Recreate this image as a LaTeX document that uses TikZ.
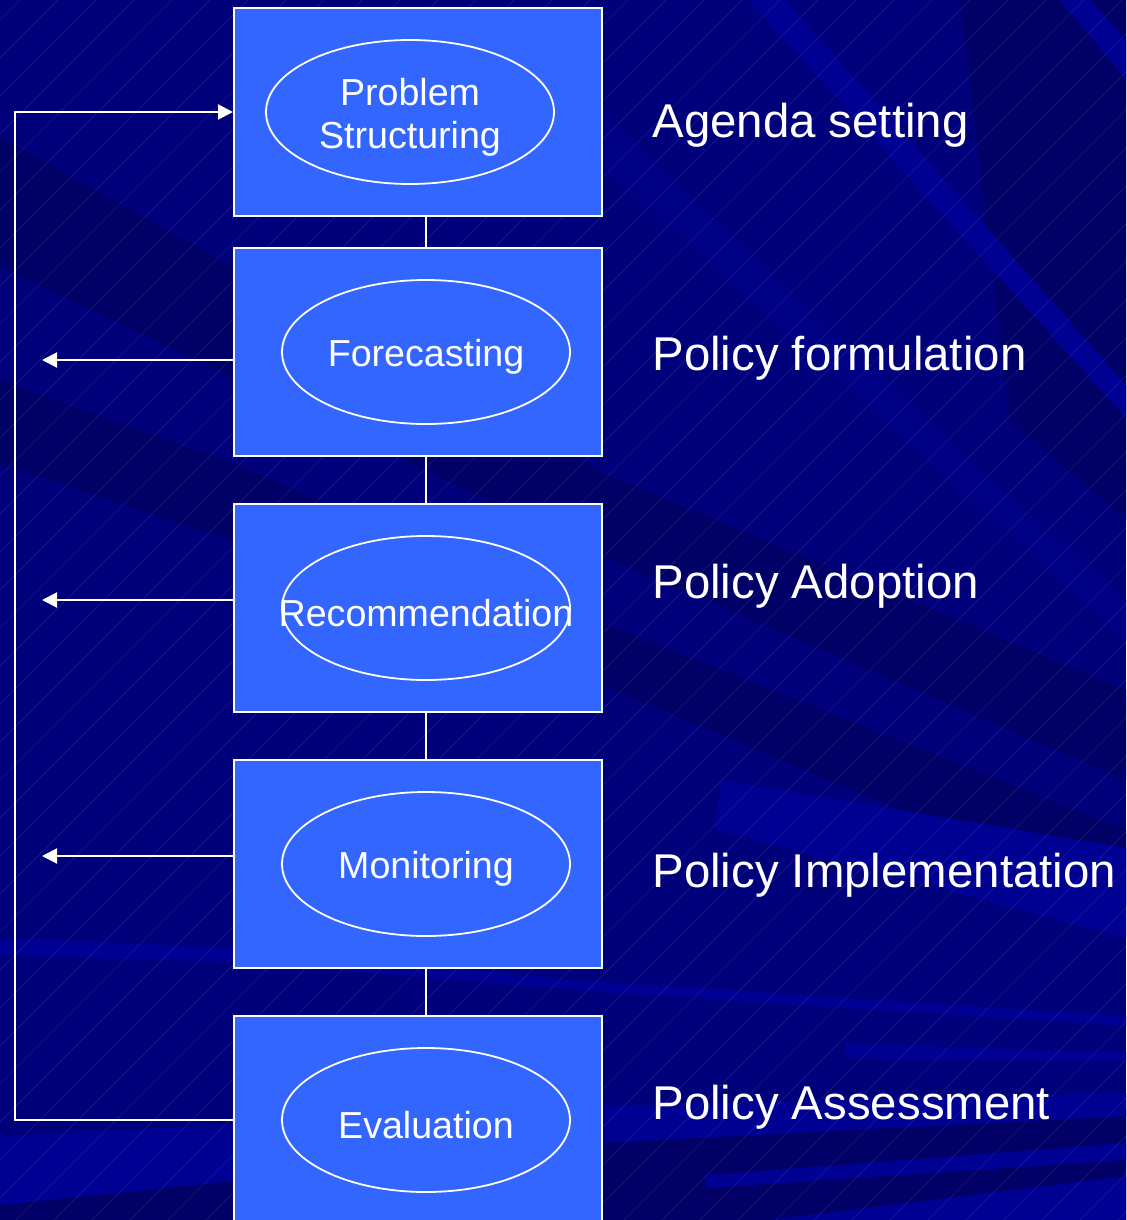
\documentclass[tikz,border=0pt]{standalone}
\usepackage{fontspec}
\setmainfont{Liberation Sans}
\usetikzlibrary{arrows.meta,shapes.geometric}

\definecolor{navy}{HTML}{00007A}
\definecolor{navydark}{HTML}{000066}
\definecolor{navylight}{HTML}{000092}
\definecolor{boxblue}{HTML}{3366FF}

\tikzset{
	stage/.style={draw=white, line width=1pt, fill=boxblue, minimum width=184pt, minimum height=104pt, inner sep=0pt},
	method/.style={ellipse, draw=white, line width=.9pt, minimum width=144pt, minimum height=72pt, inner sep=0pt},
	methodtext/.style={text=white, align=center, inner sep=0pt, yshift=-2.5pt, font=\fontsize{18.8}{21.5}\selectfont},
	phase/.style={anchor=base west, inner sep=0pt, text=white, font=\fontsize{23.7}{28}\selectfont},
	link/.style={white, line width=1pt},
	back/.style={white, line width=1pt, -{Triangle[length=7.5pt,width=7.5pt]}},
	hatch/.style={white, opacity=.11, line width=.3pt},
}

\begin{document}
\begin{tikzpicture}[x=0.5pt, y=-0.5pt]
	\useasboundingbox (0,0) rectangle (1126,1220);
	
	% background
	\begin{scope}
		\clip (0,0) rectangle (1126,1220);
		\fill[navy] (0,0) rectangle (1126,1220);
		\fill[navydark] (0,137) -- (233,267) -- (600,472) -- (1126,690) -- (1126,780) -- (600,555) -- (233,377) -- (0,267) -- cycle;
		\fill[navydark] (0,380) -- (240,466) -- (600,622) -- (1126,830) -- (1126,905) -- (600,684) -- (240,543) -- (0,464) -- cycle;
		\fill[navydark] (960,0) -- (1126,0) -- (1126,520) -- (1010,420) -- cycle;
		\fill[navydark] (0,1160) -- (1126,1110) -- (1126,1220) -- (0,1220) -- cycle;
		\fill[navylight] (748,0) -- (785,0) -- (1126,385) -- (1126,418) -- cycle;
		\fill[navylight!45!navy] (560,80) -- (600,110) -- (980,470) -- (1126,600) -- (1126,640) -- (960,490) -- (600,165) -- (520,100) -- cycle;
		\fill[navylight] (1060,0) -- (1090,0) -- (1126,40) -- (1126,80) -- cycle;
		\fill[navylight] (721,780) -- (1126,848) -- (1126,938) -- (714,829) -- cycle;
		\fill[navylight] (0,938) -- (240,948) -- (600,982) -- (1126,1016) -- (1126,1026) -- (600,992) -- (240,962) -- (0,956) -- cycle;
		\fill[navylight] (845,1044) -- (1126,1052) -- (1126,1062) -- (845,1058) -- cycle;
		\fill[navylight] (0,1136) -- (600,1106) -- (1126,1093) -- (1126,1116) -- (600,1143) -- (0,1205) -- cycle;
		\fill[navylight] (706,1175) -- (1126,1143) -- (1126,1160) -- (706,1188) -- cycle;
		\fill[navylight] (768,1220) -- (1126,1176) -- (1126,1220) -- cycle;
		\foreach \x in {-1200,-1162,...,1130}
			\draw[hatch] (\x,1220) -- ++(1220,-1220);
	\end{scope}
	
	% stages
	\node[stage] (s1) at (418,112) {};
	\node[stage] (s2) at (418,352) {};
	\node[stage] (s3) at (418,608) {};
	\node[stage] (s4) at (418,864) {};
	\node[stage] (s5) at (418,1120) {};
	
	\node[method, label={[methodtext]center:Problem\\Structuring}] (e1) at (410,112) {};
	\node[method, label={[methodtext]center:Forecasting}] (e2) at (426,352) {};
	\node[method, label={[methodtext]center:Recommendation}] (e3) at (426,608) {};
	\node[method, label={[methodtext]center:Monitoring}] (e4) at (426,864) {};
	\node[method, label={[methodtext]center:Evaluation}] (e5) at (426,1120) {};
	
	\draw[link] (s1.south -| e2.center) -- (s2.north -| e2.center);
	\draw[link] (s2.south -| e3.center) -- (s3.north -| e3.center);
	\draw[link] (s3.south -| e4.center) -- (s4.north -| e4.center);
	\draw[link] (s4.south -| e5.center) -- (s5.north -| e5.center);
	
	% feedback
	\coordinate (loop) at (15,1120);
	\coordinate (o2) at (42,360);
	\coordinate (o3) at (42,600);
	\coordinate (o4) at (42,856);
	\draw[back] (s5.west) -- (loop) |- (s1.west);
	\draw[back] (s2.west |- o2) -- (o2);
	\draw[back] (s3.west |- o3) -- (o3);
	\draw[back] (s4.west |- o4) -- (o4);
	
	\node[phase] (p1) at (652,138) {Agenda setting};
	\node[phase] (p2) at (652,370) {Policy formulation};
	\node[phase] (p3) at (652,598) {Policy Adoption};
	\node[phase] (p4) at (652,887) {Policy Implementation};
	\node[phase] (p5) at (652,1119) {Policy Assessment};
\end{tikzpicture}
\end{document}
